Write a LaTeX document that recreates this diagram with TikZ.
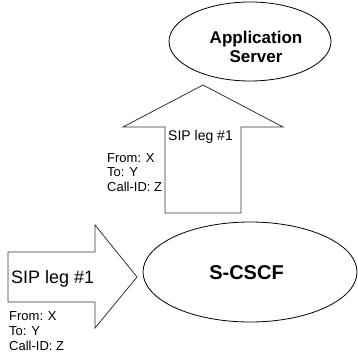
\documentclass[tikz,border=0pt]{standalone}
\usepackage{fontspec}
\setmainfont{Liberation Sans}
\begin{document}
\begin{tikzpicture}[x=1pt,y=-1pt,
  blockarrow/.style={draw=black!80,line width=0.8pt,line join=miter},
  entity/.style={draw=black,line width=0.8pt},
  lbl/.style={inner sep=0pt,anchor=base west},
  hdr/.style={inner sep=0pt,font=\fontsize{13}{15}\selectfont}]
\useasboundingbox (0,0) rectangle (358,358);
% entities
\draw[entity] (250,41.5) ellipse [x radius=81pt, y radius=39.5pt];
\draw[entity] (250,272) ellipse [x radius=107pt, y radius=50pt];
\node[inner sep=0pt,align=center,font=\fontsize{17}{19.6}\selectfont\bfseries] (as) at (256,47) {Application\\Server};
\node[inner sep=0pt,anchor=base,font=\fontsize{20}{24}\selectfont\bfseries] (scscf) at (246.5,279) {S-CSCF};
% block arrows
\draw[blockarrow] (203,85) -- (283,127) -- (241,127) -- (241,213) -- (165,213) -- (165,127) -- (123,127) -- cycle;
\draw[blockarrow] (8,252) -- (95,252) -- (95,225) -- (137,277) -- (95,328) -- (95,302) -- (8,302) -- cycle;
% labels up arrow
\node[lbl,font=\fontsize{14}{16}\selectfont] (leg2) at (168,141) {SIP leg \#1};
\node[lbl,hdr] (from2) at (107,162) {From: X};
\node[lbl,hdr] (to2) at (107,176.5) {To: Y};
\node[lbl,hdr] (cid2) at (107,191) {Call-ID: Z};
% labels left arrow
\node[lbl,font=\fontsize{18}{20}\selectfont] (leg1) at (11,283) {SIP leg \#1};
\node[lbl,hdr] (from1) at (9,320) {From: X};
\node[lbl,hdr] (to1) at (9,335) {To: Y};
\node[lbl,hdr] (cid1) at (9,350) {Call-ID: Z};
\end{tikzpicture}
\end{document}
